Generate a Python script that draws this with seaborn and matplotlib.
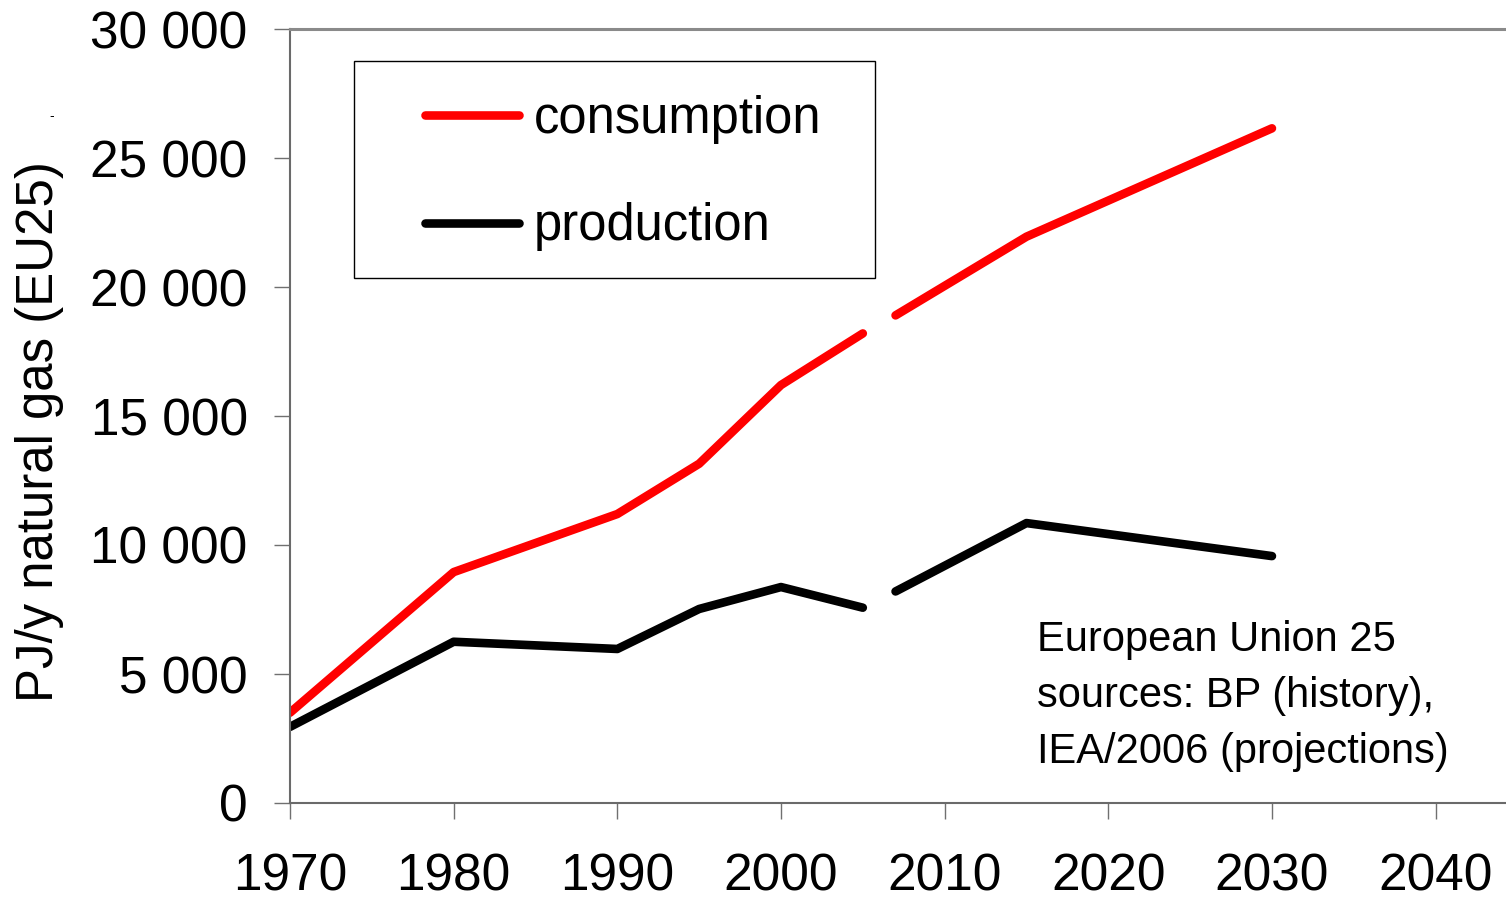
import pandas as pd
import seaborn as sns
import matplotlib.pyplot as plt
from matplotlib.patches import Rectangle
from matplotlib.ticker import FuncFormatter

# history (BP) and projections (IEA/2006), PJ per year
hist_years = [1970, 1980, 1990, 1995, 2000, 2005]
hist_consumption = [3500, 8950, 11200, 13150, 16200, 18200]
hist_production = [2950, 6250, 5970, 7520, 8370, 7570]

proj_years = [2007, 2015, 2030]
proj_consumption = [18900, 21950, 26150]
proj_production = [8200, 10850, 9570]

x_ticks = [1970, 1980, 1990, 2000, 2010, 2020, 2030, 2040]
y_ticks = [0, 5000, 10000, 15000, 20000, 25000, 30000]

series_colors = {'consumption': '#ff0000', 'production': '#000000'}

rows = []
for name, h, p in [('consumption', hist_consumption, proj_consumption),
                   ('production', hist_production, proj_production)]:
    for y, v in zip(hist_years, h):
        rows.append({'year': y, 'value': v, 'series': name, 'period': 'history'})
    for y, v in zip(proj_years, p):
        rows.append({'year': y, 'value': v, 'series': name, 'period': 'projection'})
df = pd.DataFrame(rows)

sns.set_style('white', {'text.color': 'black', 'xtick.color': '#707070',
                        'ytick.color': '#707070'})
plt.rcParams['font.family'] = ['Liberation Sans', 'DejaVu Sans']

fig = plt.figure(figsize=(15.06, 9.02), dpi=100)
ax = fig.add_axes([290 / 1506, 1 - 803 / 902, 1 - 290 / 1506, (803 - 29) / 902])

for name in ['consumption', 'production']:
    for period in ['history', 'projection']:
        sub = df[(df['series'] == name) & (df['period'] == period)]
        sns.lineplot(data=sub, x='year', y='value', ax=ax, color=series_colors[name],
                     linewidth=6.2, solid_capstyle='round', estimator=None,
                     label=name if period == 'history' else None, legend=False)

ax.set_xlim(1970, 2044.3)
ax.set_ylim(0, 30000)
ax.set_xticks(x_ticks)
ax.set_yticks(y_ticks)
ax.yaxis.set_major_formatter(FuncFormatter(lambda v, p: f"{int(v):,}".replace(',', ' ')))
ax.set_xlabel('')
ax.set_ylabel('')
ax.tick_params(axis='both', labelsize=37, length=11.5, width=1, color='#707070',
               labelcolor='black', direction='out')
ax.tick_params(axis='x', pad=24, bottom=True)
ax.tick_params(axis='y', pad=19, left=True)

for side in ['left', 'bottom']:
    ax.spines[side].set_color('#6a6a6a')
    ax.spines[side].set_linewidth(1.5)
ax.spines['top'].set_color('#8a8a8a')
ax.spines['top'].set_linewidth(2.2)
ax.spines['right'].set_visible(False)

fig.text(40 / 1506, 1 - 432 / 902, 'PJ/y natural gas (EU25)', rotation=90,
         ha='center', va='center', fontsize=36.7, color='black')
fig.text(52 / 1506, 1 - 116 / 902, '-', ha='center', va='center', fontsize=10,
         color='black')

# legend with its own box
fig.patches.append(Rectangle((354 / 1506, 1 - 278 / 902), 521 / 1506, 217 / 902,
                             transform=fig.transFigure, fill=False,
                             edgecolor='black', linewidth=1))
leg = ax.legend(loc='upper left', bbox_to_anchor=(425 / 1506, 1 - 95 / 902),
                bbox_transform=fig.transFigure, frameon=False, fontsize=36.5,
                handlelength=1.85, handletextpad=0.3, labelspacing=1.15,
                borderpad=0, borderaxespad=0)
for t in leg.get_texts():
    t.set_color('black')

ax.text((1037 - 290) / 1216, (803 - 620) / 774,
        'European Union 25\nsources: BP (history),\nIEA/2006 (projections)',
        transform=ax.transAxes, ha='left', va='top', fontsize=30, linespacing=1.52,
        color='black')

plt.savefig('out.png', dpi=100)
